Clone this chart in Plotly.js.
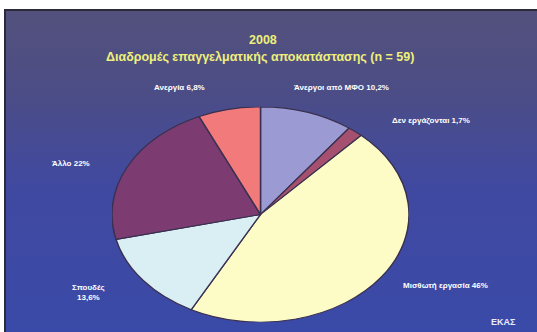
<!DOCTYPE html>
<html>
<head>
<meta charset="utf-8">
<script src="https://cdn.plot.ly/plotly-3.0.1.min.js"></script>
<style>
  html, body { margin: 0; padding: 0; background: #ffffff; }
  #wrap { position: relative; width: 537px; height: 332px; overflow: hidden; background: #ffffff; }
  #slide { position: absolute; left: 4px; top: 9px; width: 533px; height: 323px;
           border-left: 2px solid #2a2a3a; border-top: 2px solid #2a2a3a; box-sizing: border-box;
           background: linear-gradient(to bottom, #53517c 0%, #4c4d86 25%, #4049a0 55%, #3a4aa8 100%); }
  #pie { position: absolute; left: 112px; top: 66px; width: 297px; height: 297px;
         transform: scaleY(0.725); transform-origin: 50% 50%; }
  #main { position: absolute; left: 0; top: 0; width: 537px; height: 332px; }
</style>
</head>
<body>
<div id="wrap">
  <div id="slide"></div>
  <div id="pie"></div>
  <div id="main"></div>
</div>
<script>
const categories = ["Άνεργοι από ΜΦΟ", "Δεν εργάζονται", "Μισθωτή εργασία", "Σπουδές", "Άλλο", "Ανεργία"];
const values = [10.2, 1.7, 46, 13.6, 22, 6.8];
const valueLabels = ["10,2%", "1,7%", "46%", "13,6%", "22%", "6,8%"];
const colors = ["#9c9ad2", "#a4506e", "#fdfbc6", "#d9eff3", "#7c3c72", "#f27a7a"];

Plotly.newPlot("pie", [{
  type: "pie",
  labels: categories,
  values: values,
  sort: false,
  direction: "clockwise",
  rotation: 0,
  textinfo: "none",
  hoverinfo: "none",
  marker: { colors: colors, line: { color: "#3a3050", width: 1.5 } },
  domain: { x: [0, 1], y: [0, 1] }
}], {
  width: 297, height: 297,
  margin: { l: 0, r: 0, t: 0, b: 0 },
  paper_bgcolor: "rgba(0,0,0,0)",
  showlegend: false
}, { staticPlot: true });

const lab = { family: "Liberation Sans, Arial, sans-serif", size: 8, color: "#ffffff" };
const ttl = { family: "Liberation Sans, Arial, sans-serif", size: 12.5, color: "#eef07a" };
function txt(i) { return "<b>" + categories[i] + " " + valueLabels[i] + "</b>"; }
const annotations = [
  { x: 263, y: 40, text: "<b>2008</b>", font: ttl },
  { x: 260, y: 57, text: "<b>Διαδρομές επαγγελματικής αποκατάστασης (n = 59)</b>", font: ttl },
  { x: 341, y: 88, text: txt(0), font: lab },
  { x: 431, y: 120, text: txt(1), font: lab },
  { x: 445, y: 285, text: txt(2), font: lab },
  { x: 88, y: 292, text: "<b>" + categories[3] + "<br>" + valueLabels[3] + "</b>", font: lab, align: "center" },
  { x: 71, y: 163, text: txt(4), font: lab },
  { x: 179, y: 88, text: txt(5), font: lab },
  { x: 503, y: 322, text: "<b>ΕΚΑΣ</b>", font: { family: "Liberation Sans, Arial, sans-serif", size: 9, color: "#e8ecff" } }
].map(a => Object.assign({ xref: "paper", yref: "paper", showarrow: false, xanchor: "center", yanchor: "middle" }, a, { x: a.x / 537, y: 1 - a.y / 332 }));

Plotly.newPlot("main", [], {
  width: 537, height: 332,
  margin: { l: 0, r: 0, t: 0, b: 0 },
  paper_bgcolor: "rgba(0,0,0,0)",
  plot_bgcolor: "rgba(0,0,0,0)",
  xaxis: { visible: false }, yaxis: { visible: false },
  annotations: annotations,
  showlegend: false
}, { staticPlot: true });
</script>
</body>
</html>
